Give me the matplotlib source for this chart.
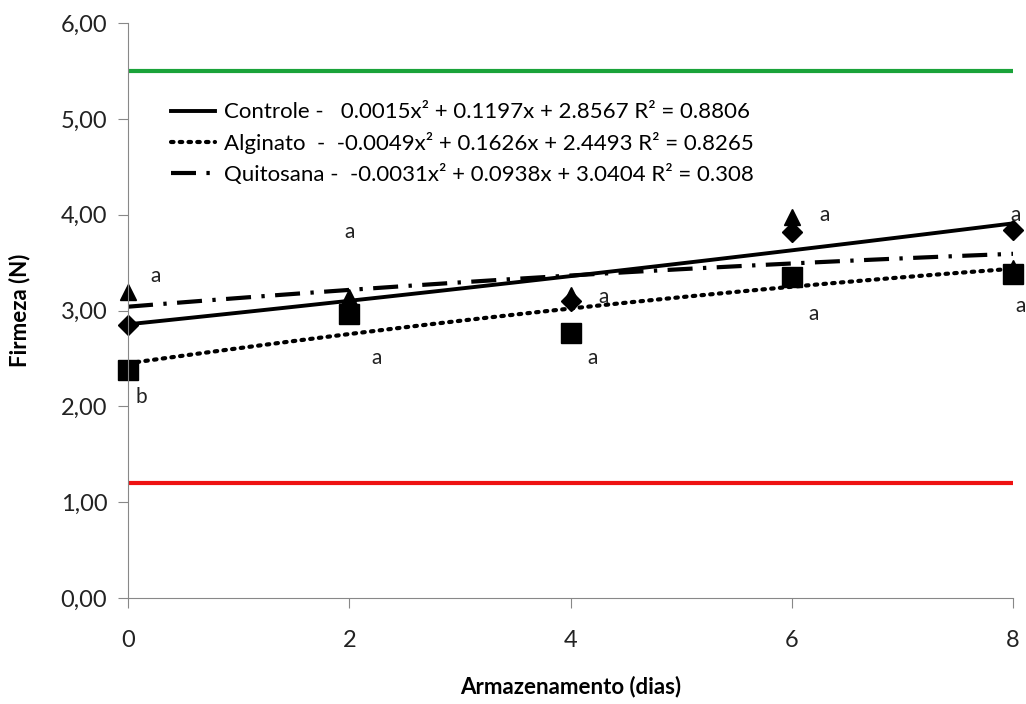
import numpy as np
import matplotlib.pyplot as plt

plt.rcParams['font.family'] = ['Lato', 'DejaVu Sans']

dias = [0, 2, 4, 6, 8]
controle = [2.85, 2.97, 3.10, 3.82, 3.84]
alginato = [2.38, 2.96, 2.77, 3.35, 3.38]
quitosana = [3.19, 3.14, 3.16, 3.98, 3.44]

# trend line coefficients (a, b, c) for a*x^2 + b*x + c
coef_controle = [0.0015, 0.1197, 2.8567]
coef_alginato = [-0.0049, 0.1626, 2.4493]
coef_quitosana = [-0.0031, 0.0938, 3.0404]

legend_labels = [
    "Controle -   0.0015x² + 0.1197x + 2.8567 R² = 0.8806",
    "Alginato  -  -0.0049x² + 0.1626x + 2.4493 R² = 0.8265",
    "Quitosana -  -0.0031x² + 0.0938x + 3.0404 R² = 0.308",
]

limite_sup = 5.5
limite_inf = 1.2

# significance letters
letras_x = [0.25, 0.12, 2.0, 2.25, 4.3, 4.2, 6.3, 6.2, 8.02, 8.07]
letras_y = [3.36, 2.1, 3.82, 2.5, 3.14, 2.5, 4.0, 2.96, 4.0, 3.05]
letras = ["a", "b", "a", "a", "a", "a", "a", "a", "a", "a"]

fig = plt.figure(figsize=(10.26, 7.04), dpi=100)
ax = fig.add_axes([0.1248, 0.1506, 0.8626, 0.8165])

ax.plot([0, 8], [limite_sup, limite_sup], color="#1aa33a", lw=3)
ax.plot([0, 8], [limite_inf, limite_inf], color="#ee1111", lw=3)

xs = np.linspace(0, 8, 100)
h1, = ax.plot(xs, np.polyval(coef_controle, xs), color="black", lw=2.8)
h2, = ax.plot(xs, np.polyval(coef_alginato, xs), color="black", lw=3,
              linestyle=(0, (0.6, 1.5)), dash_capstyle="round")
h3, = ax.plot(xs, np.polyval(coef_quitosana, xs), color="black", lw=3,
              linestyle=(0, (6, 2.5, 0.8, 2.5)))

ax.plot(dias, controle, "D", color="black", ms=10, ls="none", clip_on=False)
ax.plot(dias, quitosana, "^", color="black", ms=12, ls="none", clip_on=False)
ax.plot(dias, alginato, "s", color="black", ms=14, ls="none", clip_on=False)

for x, y, t in zip(letras_x, letras_y, letras):
    ax.text(x, y, t, fontsize=15, ha="center", va="center", color="#222222")

ax.legend([h1, h2, h3], legend_labels, loc="upper left",
          bbox_to_anchor=(0.026, 0.897), frameon=False, fontsize=16,
          handlelength=2.0, handletextpad=0.4, labelspacing=0.44)

ax.set_xlim(0, 8)
ax.set_ylim(0, 6)
ax.set_xticks(dias)
yt = np.arange(0, 6.01, 1)
ax.set_yticks(yt)
ax.set_yticklabels([("%.2f" % v).replace(".", ",") for v in yt])
ax.tick_params(labelsize=17, color="#888888", length=7, direction="out",
               labelcolor="#222222")
ax.tick_params(axis="x", pad=16)
ax.tick_params(axis="y", pad=8)
for s in ["top", "right"]:
    ax.spines[s].set_visible(False)
for s in ["left", "bottom"]:
    ax.spines[s].set_color("#888888")

ax.set_xlabel("Armazenamento (dias)", fontsize=16, fontweight="bold", labelpad=18)
ax.set_ylabel("Firmeza (N)", fontsize=16, fontweight="bold", labelpad=22)

fig.savefig("out.png")
